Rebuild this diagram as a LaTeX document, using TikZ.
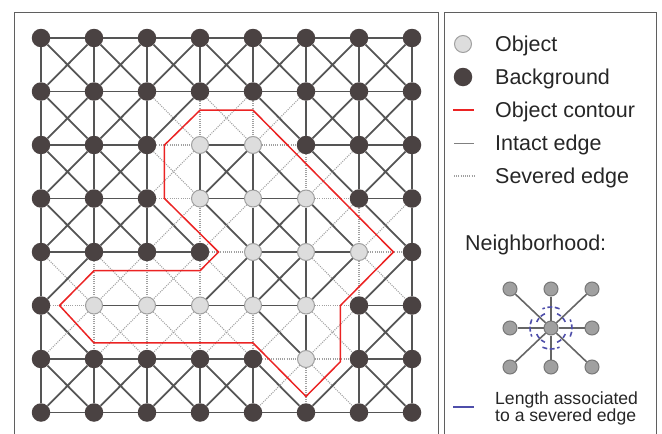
\documentclass[tikz,border=0pt]{standalone}
\usepackage{fontspec}
\setmainfont{Liberation Sans}
\usetikzlibrary{calc}
\definecolor{bgfill}{RGB}{74,66,66}
\definecolor{objfill}{RGB}{221,221,221}
\definecolor{objrim}{RGB}{160,160,160}
\definecolor{edgegray}{RGB}{85,85,85}
\definecolor{cutgray}{RGB}{160,160,160}
\definecolor{contourred}{RGB}{235,35,35}
\definecolor{lenblue}{RGB}{78,78,170}
\definecolor{framegray}{RGB}{95,95,95}
\definecolor{nbfill}{RGB}{160,160,160}
\definecolor{nbrim}{RGB}{120,120,120}

\begin{document}
\begin{tikzpicture}[x=1pt, y=-1pt,
  bgvertex/.style={circle, fill=bgfill, inner sep=0pt, minimum size=18.5pt},
  objvertex/.style={circle, draw=objrim, fill=objfill, line width=1pt,
                    inner sep=0pt, minimum size=17pt},
  intact/.style={draw=edgegray, line width=1.8pt},
  severed/.style={draw=cutgray, line width=1.1pt, dash pattern=on 1pt off 1.2pt},
  contour/.style={draw=contourred, line width=1.5pt},
  frame/.style={draw=framegray, line width=1pt},
  nbvertex/.style={circle, draw=nbrim, fill=nbfill, line width=1pt,
                   inner sep=0pt, minimum size=14pt},
  nbedge/.style={draw=edgegray!90, line width=1.6pt},
  lenarc/.style={draw=lenblue, line width=1.6pt, dash pattern=on 5pt off 2.5pt},
  legend/.style={anchor=base west, inner sep=0pt, text=black!85,
                 font=\fontsize{21.5}{24}\selectfont},
  small/.style={anchor=base west, inner sep=0pt, text=black!85, align=left,
                font=\fontsize{17.6}{16.5}\selectfont}]
\useasboundingbox (0,0) rectangle (662,434);
\draw[frame] (14,434) |- (438,12) -- (438,434);
\draw[frame] (444,434) |- (656,12) -- (656,434);

\foreach \c/\r in {3/2,4/2,3/3,4/3,5/3,4/4,5/4,6/4,1/5,2/5,3/5,4/5,5/5,5/6}
  {\expandafter\gdef\csname obj\c-\r\endcsname{}}

\begin{scope}[shift={(41,38)}, x=53pt, y=-53.5pt]
\foreach \r in {0,...,7}
  \foreach \c in {0,...,7} {
    \ifcsname obj\c-\r\endcsname
      \node[objvertex] (n-\c-\r) at (\c,\r) {};
    \else
      \node[bgvertex] (n-\c-\r) at (\c,\r) {};
    \fi
  }
\foreach \c in {0,...,7}
  \foreach \r in {0,...,7}
    \foreach \dx/\dy in {1/0,0/1,1/1,-1/1} {
      \pgfmathtruncatemacro\cc{\c+\dx}
      \pgfmathtruncatemacro\rr{\r+\dy}
      \pgfmathtruncatemacro\inside{(\cc>=0)&&(\cc<=7)&&(\rr<=7)}
      \ifnum\inside=1
        \def\ka{0}\ifcsname obj\c-\r\endcsname\def\ka{1}\fi
        \def\kb{0}\ifcsname obj\cc-\rr\endcsname\def\kb{1}\fi
        \ifx\ka\kb\def\kind{intact}\else\def\kind{severed}\fi
        \draw[\kind] (n-\c-\r) -- (n-\cc-\rr);
      \fi
    }
\draw[contour] (3,1.35) -- (4,1.35) -- (6.65,4) -- (5.65,5) -- (5.65,6.05)
  -- (5,6.7) -- (4,5.7) -- (1,5.7) -- (0.35,5) -- (1,4.35) -- (3,4.35)
  -- (3.35,4) -- (2.33,3) -- (2.33,2) -- cycle;
\end{scope}

\node[objvertex] (key-obj) at (463,44) {};
\node[bgvertex] (key-bg) at (463,77) {};
\draw[contour] (453,110) -- (474,110);
\draw[intact, draw=edgegray!75, line width=1.4pt] (454,143.5) -- (474,143.5);
\draw[severed] (454,176) -- (474,176);
\node[legend] (lbl-obj) at (495,51) {Object};
\node[legend] (lbl-bg) at (495,84) {Background};
\node[legend] (lbl-contour) at (495,117) {Object contour};
\node[legend] (lbl-intact) at (495,150) {Intact edge};
\node[legend] (lbl-severed) at (495,183) {Severed edge};
\node[legend] (lbl-nb) at (465,250) {Neighborhood:};

\node[nbvertex] (nb-c) at (551,328) {};
\foreach \a/\b [count=\k] in {-1/-1,0/-1,1/-1,-1/0,1/0,-1/1,0/1,1/1} {
  \node[nbvertex] (nb-\k) at ({551+41*\a},{328+39*\b}) {};
  \draw[nbedge] (nb-c) -- (nb-\k);
}
\begin{scope}[shift={(nb-c)}, x=1pt, y=1pt]
\foreach \ang in {0,90,180,270}
  \draw[lenarc] (\ang-24:21) arc[start angle=\ang-24, end angle=\ang+24, radius=21];
\foreach \ang in {45,135,225,315}
  \draw[lenarc] (\ang-22:15.5) arc[start angle=\ang-22, end angle=\ang+22, radius=15.5];
\end{scope}

\draw[draw=lenblue, line width=1.4pt] (453,407) -- (474,407);
\node[small] (lbl-len) at (495,421) {Length associated\\to a severed edge};
\end{tikzpicture}
\end{document}
